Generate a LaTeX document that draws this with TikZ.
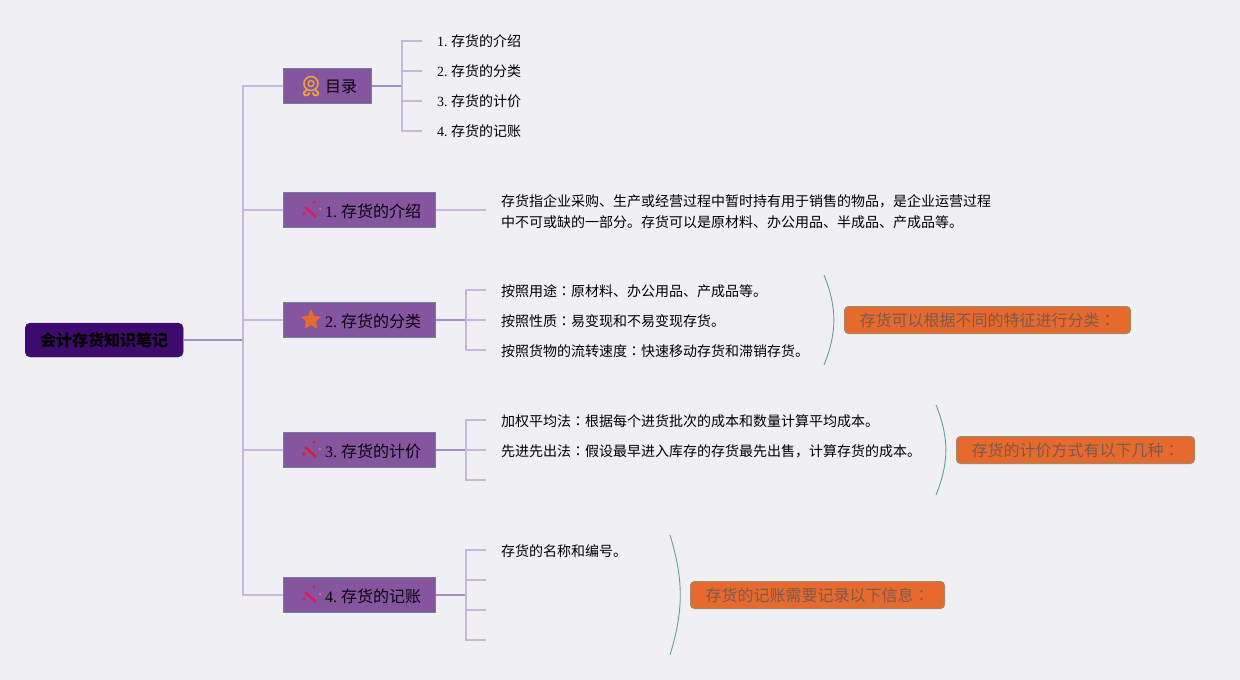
\documentclass[tikz,border=0pt]{standalone}
\usepackage{fontspec}
\setmainfont{Liberation Serif}
\newfontfamily\cjk{Noto Sans CJK SC}
\newfontfamily\cjkc{Noto Sans CJK TC}
\usetikzlibrary{shapes.geometric, positioning, calc}
\definecolor{bgcol}{HTML}{F0F0F4}
\definecolor{rootcol}{HTML}{3F0A6E}
\definecolor{topiccol}{HTML}{85559F}
\definecolor{topicline}{HTML}{6F7F9F}
\definecolor{maincol}{HTML}{A58CC2}
\definecolor{lightcol}{HTML}{C6B8DC}
\definecolor{notecol}{HTML}{E66A2E}
\definecolor{noteline}{HTML}{A08A6A}
\definecolor{notetext}{HTML}{7C5A4C}
\definecolor{arccol}{HTML}{5FA391}
\definecolor{awardcol}{HTML}{E6A540}
\definecolor{starcol}{HTML}{E66B2F}
\definecolor{wandpink}{HTML}{E0185E}
\definecolor{wandred}{HTML}{D8202F}
\newcommand{\cmark}{{\cjkc ：}}
\newcommand{\iconsp}{\hspace*{27pt}}
\frenchspacing
\tikzset{
    root/.style = {draw=rootcol, fill=rootcol, rounded corners=5pt, anchor=west, inner xsep=15pt, inner ysep=0pt, minimum height=34pt, font=\fontsize{16}{18}\selectfont\cjk\bfseries, text=black},
    topic/.style = {draw=topicline, fill=topiccol, line width=1pt, anchor=west, inner xsep=14.5pt, inner ysep=0pt, minimum height=35pt, text height=14pt, text depth=0pt, font=\fontsize{16}{18}\selectfont, text=black!90!rootcol},
    para/.style = {anchor=west, inner xsep=15pt, inner ysep=0pt, align=left, text depth=0pt, font=\fontsize{14}{21}\selectfont, text=black},
    leaf/.style = {para, text height=12.5pt},
    note/.style = {draw=noteline, fill=notecol, line width=1pt, rounded corners=4pt, anchor=west, inner xsep=15pt, inner ysep=0pt, minimum height=27pt, font=\fontsize{16}{18}\selectfont\cjk, text=notetext},
    main/.style = {draw=maincol, line width=2pt},
    branch/.style = {draw=lightcol, line width=2pt},
    brace/.style = {draw=arccol, line width=.9pt},
    wand/.pic = {
        \draw[#1, line width=2.4pt] (-6,-3) -- (5,7);
        \fill[#1] (3,-8) circle (1.5pt);
        \fill[#1] (-7,4) circle (1.8pt);
        \fill[#1!50!bgcol] (9,-1) circle (1pt);
    },
    award/.pic = {
        \draw[awardcol, line width=1.6pt] (0,-2) circle (7pt);
        \draw[awardcol, line width=1.4pt] (0,-2) circle (3pt);
        \draw[awardcol, line width=1.8pt, line join=round] (-4,4) -- (-7.5,7.5) -- (-6,10) -- (-3,9.5) -- (-1.5,7);
        \draw[awardcol, line width=1.8pt, line join=round] (4,4) -- (7.5,7.5) -- (6,10) -- (3,9.5) -- (1.5,7);
    },
    starmark/.style = {star, star points=5, star point ratio=2.1, fill=starcol, draw=starcol, line join=round, line width=1pt, minimum size=19pt, inner sep=0pt}
}
\begin{document}
\begin{tikzpicture}[x=1pt,y=-1pt]
    \useasboundingbox (0,0) rectangle (1240,680);
    \fill[bgcol] (0,0) rectangle (1240,680);

    \node (root) [root] at (25,340) {会计存货知识笔记};
    \coordinate [right=60pt of root.east] (spine);

    \node (topic0) [topic] at (283,85.5) {\iconsp{\cjk 目录}};
    \node (topic1) [topic] at (283,210) {\iconsp 1. {\cjk 存货的介绍}};
    \node (topic2) [topic] at (283,320) {\iconsp 2. {\cjk 存货的分类}};
    \node (topic3) [topic] at (283,450) {\iconsp 3. {\cjk 存货的计价}};
    \node (topic4) [topic] at (283,595) {\iconsp 4. {\cjk 存货的记账}};

    \pic at ($(topic0.west)+(28,0)$) {award};
    \pic at ($(topic1.west)+(28,0)$) {wand=wandpink};
    \node (star2) [starmark] at ($(topic2.west)+(28,0)$) {};
    \pic at ($(topic3.west)+(28,0)$) {wand=wandred};
    \pic at ($(topic4.west)+(28,0)$) {wand=wandpink};

    \draw[main] (root.east) -- (spine);
    \foreach \n in {0,...,4}
        \draw[branch] (spine) |- (topic\n.west);

    % table of contents
    \coordinate [right=30pt of topic0.east] (junc0);
    \node (leaf01) [leaf] at ($(junc0)+(20,-45)$) {1. {\cjk 存货的介绍}};
    \node (leaf02) [leaf] at ($(junc0)+(20,-15)$) {2. {\cjk 存货的分类}};
    \node (leaf03) [leaf] at ($(junc0)+(20,15)$) {3. {\cjk 存货的计价}};
    \node (leaf04) [leaf] at ($(junc0)+(20,45)$) {4. {\cjk 存货的记账}};
    \draw[main] (topic0.east) -- (junc0);
    \foreach \n in {1,...,4}
        \draw[branch] (junc0) |- (leaf0\n.west);

    % introduction
    \node (leaf11) [para,right=50pt of topic1.east,yshift=-1pt] {\cjk 存货指企业采购、生产或经营过程中暂时持有用于销售的物品，是企业运营过程\\\cjk 中不可或缺的一部分。存货可以是原材料、办公用品、半成品、产成品等。};
    \draw[branch] (topic1.east) -- (topic1.east -| leaf11.west);

    % classification
    \coordinate [right=30pt of topic2.east] (junc2);
    \node (leaf21) [leaf] at ($(junc2)+(20,-30)$) {\cjk 按照用途\cmark 原材料、办公用品、产成品等。};
    \node (leaf22) [leaf] at ($(junc2)+(20,0)$) {\cjk 按照性质\cmark 易变现和不易变现存货。};
    \node (leaf23) [leaf] at ($(junc2)+(20,30)$) {\cjk 按照货物的流转速度\cmark 快速移动存货和滞销存货。};
    \draw[main] (topic2.east) -- (junc2);
    \foreach \n in {1,2,3}
        \draw[branch] (junc2) |- (leaf2\n.west);
    \node (note2) [note] at (844,320) {存货可以根据不同的特征进行分类\cmark};
    \coordinate (arc2a) at ($(note2.west)+(-20,-45)$);
    \coordinate (arc2b) at ($(note2.west)+(-20,45)$);
    \draw[brace] (arc2a) to[bend left=22] (arc2b);

    % valuation
    \coordinate [right=30pt of topic3.east] (junc3);
    \node (leaf31) [leaf] at ($(junc3)+(20,-30)$) {\cjk 加权平均法\cmark 根据每个进货批次的成本和数量计算平均成本。};
    \node (leaf32) [leaf] at ($(junc3)+(20,0)$) {\cjk 先进先出法\cmark 假设最早进入库存的存货最先出售，计算存货的成本。};
    \coordinate (leaf33) at ($(junc3)+(20,30)$);
    \draw[main] (topic3.east) -- (junc3);
    \draw[branch] (junc3) |- (leaf31.west);
    \draw[branch] (junc3) |- (leaf32.west);
    \draw[branch] (junc3) |- (leaf33);
    \node (note3) [note] at (956,450) {存货的计价方式有以下几种\cmark};
    \coordinate (arc3a) at ($(note3.west)+(-20,-45)$);
    \coordinate (arc3b) at ($(note3.west)+(-20,45)$);
    \draw[brace] (arc3a) to[bend left=22] (arc3b);

    % bookkeeping
    \coordinate [right=30pt of topic4.east] (junc4);
    \node (leaf41) [leaf] at ($(junc4)+(20,-45)$) {\cjk 存货的名称和编号。};
    \coordinate (leaf42) at ($(junc4)+(20,-15)$);
    \coordinate (leaf43) at ($(junc4)+(20,15)$);
    \coordinate (leaf44) at ($(junc4)+(20,45)$);
    \draw[main] (topic4.east) -- (junc4);
    \draw[branch] (junc4) |- (leaf41.west);
    \draw[branch] (junc4) |- (leaf42);
    \draw[branch] (junc4) |- (leaf43);
    \draw[branch] (junc4) |- (leaf44);
    \node (note4) [note] at (690,595) {存货的记账需要记录以下信息\cmark};
    \coordinate (arc4a) at ($(note4.west)+(-20,-60)$);
    \coordinate (arc4b) at ($(note4.west)+(-20,60)$);
    \draw[brace] (arc4a) to[bend left=17] (arc4b);
\end{tikzpicture}
\end{document}
